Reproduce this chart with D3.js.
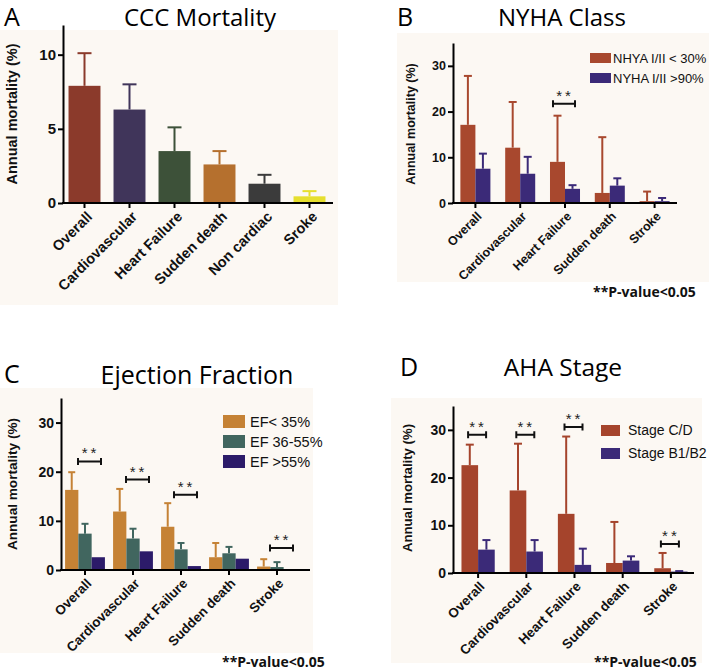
<!DOCTYPE html>
<html>
<head>
<meta charset="utf-8">
<script src="https://cdn.jsdelivr.net/npm/d3@7"></script>
<style>
  body { margin: 0; background: #fff; }
  svg { display: block; }
</style>
</head>
<body>
<div id="chart"></div>
<script>
// Datos
const cccCategories = ["Overall", "Cardiovascular", "Heart Failure", "Sudden death", "Non cardiac", "Sroke"];
const cccMean = [7.9, 6.3, 3.5, 2.6, 1.3, 0.45];
const cccUpper = [10.1, 8.0, 5.1, 3.5, 1.9, 0.8];

const groupCategories = ["Overall", "Cardiovascular", "Heart Failure", "Sudden death", "Stroke"];

const nyhaSeries = ["NHYA I/II < 30%", "NYHA I/II >90%"];
const nyhaLowMean = [17.1, 12.1, 9.0, 2.2, 0.4];
const nyhaLowUpper = [27.8, 22.1, 19.1, 14.4, 2.5];
const nyhaHighMean = [7.5, 6.4, 3.1, 3.8, 0.4];
const nyhaHighUpper = [10.8, 10.1, 3.9, 5.4, 1.1];
const nyhaSig = [{ cat: "Heart Failure", y: 21.7 }];

const efSeries = ["EF< 35%", "EF 36-55%", "EF >55%"];
const efLowMean = [16.3, 11.9, 8.8, 2.6, 0.7];
const efLowUpper = [19.9, 16.5, 13.6, 5.5, 2.2];
const efMidMean = [7.4, 6.4, 4.2, 3.4, 0.6];
const efMidUpper = [9.4, 8.4, 5.5, 4.7, 1.6];
const efHighMean = [2.6, 3.8, 0.8, 2.3, 0.2];
const efSig = [
  { cat: "Overall", y: 22.1 },
  { cat: "Cardiovascular", y: 18.4 },
  { cat: "Heart Failure", y: 15.3 },
  { cat: "Stroke", y: 4.5 },
];

const ahaSeries = ["Stage C/D", "Stage B1/B2"];
const ahaCDMean = [22.6, 17.3, 12.4, 2.1, 1.0];
const ahaCDUpper = [26.9, 27.1, 28.6, 10.7, 4.2];
const ahaBMean = [4.9, 4.5, 1.7, 2.6, 0.3];
const ahaBUpper = [6.9, 6.9, 5.1, 3.5, 0.4];
const ahaSig = [
  { cat: "Overall", y: 29.0 },
  { cat: "Cardiovascular", y: 29.0 },
  { cat: "Heart Failure", y: 30.6 },
  { cat: "Stroke", y: 6.1 },
];

const width = 709,
  height = 672;
const cream = "#fcf8f3";
const labelFont = "'Liberation Sans', Arial, sans-serif";
const titleFont = "'Open Sans', sans-serif";

const svg = d3
  .select("#chart")
  .append("svg")
  .attr("width", width)
  .attr("height", height);

// Dibujar un panel de barras
const drawPanel = (p) => {
  const g = svg.append("g");

  g.append("rect")
    .attr("x", p.bg[0])
    .attr("y", p.bg[1])
    .attr("width", p.bg[2])
    .attr("height", p.bg[3])
    .attr("fill", cream);

  // Título y letra
  g.append("text")
    .attr("x", p.title.x)
    .attr("y", p.title.y)
    .attr("text-anchor", "middle")
    .style("font-family", titleFont)
    .style("font-size", p.title.size + "px")
    .text(p.title.text);
  g.append("text")
    .attr("x", p.letter.x)
    .attr("y", p.letter.y)
    .style("font-family", titleFont)
    .style("font-size", "25px")
    .text(p.letter.text);

  const y = d3.scaleLinear().domain([0, p.yMax]).range([p.zeroY, p.topY]);
  const x = d3
    .scaleBand()
    .domain(p.cats)
    .range(p.band)
    .paddingInner(p.padIn)
    .paddingOuter(p.padIn / 2);
  const xs = d3
    .scaleBand()
    .domain(d3.range(p.series.length))
    .range([0, x.bandwidth()]);

  // Barras y barras de error
  p.series.forEach((s, si) => {
    const colorOf = (i) => (Array.isArray(s.color) ? s.color[i] : s.color);
    const sg = g.append("g");
    sg.selectAll("rect")
      .data(s.mean)
      .enter()
      .append("rect")
      .attr("x", (d, i) => x(p.cats[i]) + xs(si))
      .attr("y", (d) => y(d))
      .attr("width", xs.bandwidth())
      .attr("height", (d) => y(0) - y(d))
      .attr("fill", (d, i) => colorOf(i));

    if (!s.upper) return;
    const eg = sg
      .selectAll("g.err")
      .data(s.upper)
      .enter()
      .append("g")
      .attr("class", "err")
      .attr("stroke", (d, i) => colorOf(i))
      .attr("stroke-width", 2);
    eg.append("line")
      .attr("x1", (d, i) => x(p.cats[i]) + xs(si) + xs.bandwidth() / 2)
      .attr("x2", (d, i) => x(p.cats[i]) + xs(si) + xs.bandwidth() / 2)
      .attr("y1", (d, i) => y(s.mean[i]))
      .attr("y2", (d) => y(d));
    eg.append("line")
      .attr("x1", (d, i) => x(p.cats[i]) + xs(si) + xs.bandwidth() / 2 - p.cap / 2)
      .attr("x2", (d, i) => x(p.cats[i]) + xs(si) + xs.bandwidth() / 2 + p.cap / 2)
      .attr("y1", (d) => y(d))
      .attr("y2", (d) => y(d));
  });

  // Eje Y
  const yAxis = g
    .append("g")
    .attr("transform", `translate(${p.left},0)`)
    .call(d3.axisLeft(y).tickValues(p.ticks).tickSize(5).tickSizeOuter(0).tickPadding(2));
  yAxis.select(".domain").attr("stroke-width", 2);
  yAxis.selectAll(".tick line").attr("stroke-width", 2);
  yAxis
    .selectAll("text")
    .style("font-family", labelFont)
    .style("font-weight", "bold")
    .style("font-size", p.tickSize + "px")
    .attr("fill", "#111");

  // Eje X
  const xAxis = g
    .append("g")
    .attr("transform", `translate(0,${p.zeroY})`)
    .call(d3.axisBottom(x).tickSize(5).tickSizeOuter(0));
  xAxis.select(".domain").remove();
  xAxis.selectAll(".tick line").attr("stroke-width", 2);
  xAxis
    .selectAll("text")
    .attr("x", 0)
    .attr("y", 0)
    .attr("dy", "0.35em")
    .attr("transform", `translate(${p.xLab[0]},${p.xLab[1]}) rotate(-45)`)
    .style("text-anchor", "end")
    .style("font-family", labelFont)
    .style("font-weight", "bold")
    .style("font-size", p.xLabelSize + "px")
    .attr("fill", "#111");
  g.append("line")
    .attr("x1", p.left - 1)
    .attr("x2", p.axisRight)
    .attr("y1", p.zeroY)
    .attr("y2", p.zeroY)
    .attr("stroke", "#000")
    .attr("stroke-width", 2);

  // Etiqueta eje Y
  g.append("text")
    .attr("transform", `translate(${p.yLabel.x},${p.yLabel.y}) rotate(-90)`)
    .attr("text-anchor", "middle")
    .style("font-family", labelFont)
    .style("font-weight", "bold")
    .style("font-size", p.yLabel.size + "px")
    .attr("fill", "#111")
    .text("Annual mortality (%)");

  // Significancia
  if (p.sig) {
    const bg = g
      .selectAll("g.sig")
      .data(p.sig)
      .enter()
      .append("g")
      .attr("class", "sig")
      .attr(
        "transform",
        (d) => `translate(${x(d.cat) + x.bandwidth() / 2 + p.bracket.dx},${y(d.y)})`
      );
    const hw = p.bracket.w / 2;
    bg.append("path")
      .attr("d", `M${-hw},-3.5V3.5M${-hw},0H${hw}M${hw},-3.5V3.5`)
      .attr("stroke", "#111")
      .attr("stroke-width", 2)
      .attr("fill", "none");
    bg.append("text")
      .attr("y", -3)
      .attr("x", 1)
      .attr("text-anchor", "middle")
      .style("font-family", labelFont)
      .style("font-size", "15px")
      .style("letter-spacing", "3px")
      .attr("fill", "#222")
      .text("**");
  }

  // Leyenda
  if (p.legend) {
    const L = p.legend;
    const lg = g
      .selectAll("g.leg")
      .data(p.series)
      .enter()
      .append("g")
      .attr("class", "leg")
      .attr("transform", (d, i) => `translate(${L.x},${L.y + i * L.rowH})`);
    lg.append("rect")
      .attr("width", L.sw)
      .attr("height", L.sh)
      .attr("fill", (d) => d.color);
    lg.append("text")
      .attr("x", L.tx)
      .attr("y", L.sh / 2)
      .attr("dy", "0.35em")
      .style("font-family", labelFont)
      .style("font-size", L.size + "px")
      .attr("fill", "#111")
      .text((d) => d.name);
  }

  if (p.pval) {
    g.append("text")
      .attr("x", p.pval[0])
      .attr("y", p.pval[1])
      .style("font-family", titleFont)
      .style("font-weight", "bold")
      .style("font-size", "14px")
      .attr("fill", "#111")
      .text("**P-value<0.05");
  }
};

// Panel A
drawPanel({
  bg: [0, 30, 338, 275],
  title: { text: "CCC Mortality", x: 200, y: 26, size: 24 },
  letter: { text: "A", x: 4, y: 26 },
  cats: cccCategories,
  series: [
    {
      name: "CCC",
      mean: cccMean,
      upper: cccUpper,
      color: ["#8b3a2b", "#40355a", "#3d5139", "#b5702e", "#3b3b3b", "#e6df2e"],
    },
  ],
  left: 63,
  axisRight: 333,
  zeroY: 203,
  topY: 25,
  yMax: 12,
  ticks: [0, 5, 10],
  band: [62, 332],
  padIn: 0.29,
  cap: 14,
  tickSize: 15,
  xLabelSize: 14.5,
  xLab: [5, 11],
  yLabel: { x: 17, y: 114, size: 14.5 },
});

// Panel B
drawPanel({
  bg: [397, 33, 312, 249],
  title: { text: "NYHA Class", x: 562, y: 26, size: 24 },
  letter: { text: "B", x: 397, y: 26 },
  cats: groupCategories,
  series: [
    { name: nyhaSeries[0], mean: nyhaLowMean, upper: nyhaLowUpper, color: "#a8482e" },
    { name: nyhaSeries[1], mean: nyhaHighMean, upper: nyhaHighUpper, color: "#3b2a78" },
  ],
  left: 453,
  axisRight: 677,
  zeroY: 203,
  topY: 43,
  yMax: 35,
  ticks: [0, 10, 20, 30],
  band: [453, 677],
  padIn: 0.33,
  cap: 8,
  tickSize: 12.5,
  xLabelSize: 12.5,
  xLab: [4, 11],
  yLabel: { x: 415, y: 124, size: 12.5 },
  sig: nyhaSig,
  bracket: { dx: -1, w: 22 },
  legend: { x: 590, y: 53, rowH: 20, sw: 21, sh: 10, tx: 23, size: 13 },
  pval: [593, 297],
});

// Panel C
drawPanel({
  bg: [0, 388, 313, 265],
  title: { text: "Ejection Fraction", x: 197, y: 384, size: 25 },
  letter: { text: "C", x: 4, y: 383 },
  cats: groupCategories,
  series: [
    { name: efSeries[0], mean: efLowMean, upper: efLowUpper, color: "#c58235" },
    { name: efSeries[1], mean: efMidMean, upper: efMidUpper, color: "#41665f" },
    { name: efSeries[2], mean: efHighMean, upper: null, color: "#2c1b69" },
  ],
  left: 61,
  axisRight: 310,
  zeroY: 570,
  topY: 398,
  yMax: 35,
  ticks: [0, 10, 20, 30],
  band: [61, 301],
  padIn: 0.17,
  cap: 7,
  tickSize: 14,
  xLabelSize: 13.4,
  xLab: [4, 11],
  yLabel: { x: 17, y: 484, size: 13.6 },
  sig: efSig,
  bracket: { dx: 4.5, w: 23 },
  legend: { x: 223, y: 415, rowH: 20, sw: 22, sh: 13, tx: 27, size: 14.5 },
  pval: [222, 667],
});

// Panel D
drawPanel({
  bg: [391, 398, 311, 265],
  title: { text: "AHA Stage", x: 563, y: 376, size: 24.5 },
  letter: { text: "D", x: 400, y: 376 },
  cats: groupCategories,
  series: [
    { name: ahaSeries[0], mean: ahaCDMean, upper: ahaCDUpper, color: "#a5442c" },
    { name: ahaSeries[1], mean: ahaBMean, upper: ahaBUpper, color: "#3b2a78" },
  ],
  left: 453,
  axisRight: 694,
  zeroY: 573,
  topY: 406,
  yMax: 35,
  ticks: [0, 10, 20, 30],
  band: [454, 695],
  padIn: 0.31,
  cap: 8,
  tickSize: 14,
  xLabelSize: 13.4,
  xLab: [4, 11],
  yLabel: { x: 412, y: 488, size: 13.2 },
  sig: ahaSig,
  bracket: { dx: -1, w: 18 },
  legend: { x: 601, y: 425, rowH: 23, sw: 19, sh: 11, tx: 27, size: 14 },
  pval: [594, 667],
});
</script>
</body>
</html>
